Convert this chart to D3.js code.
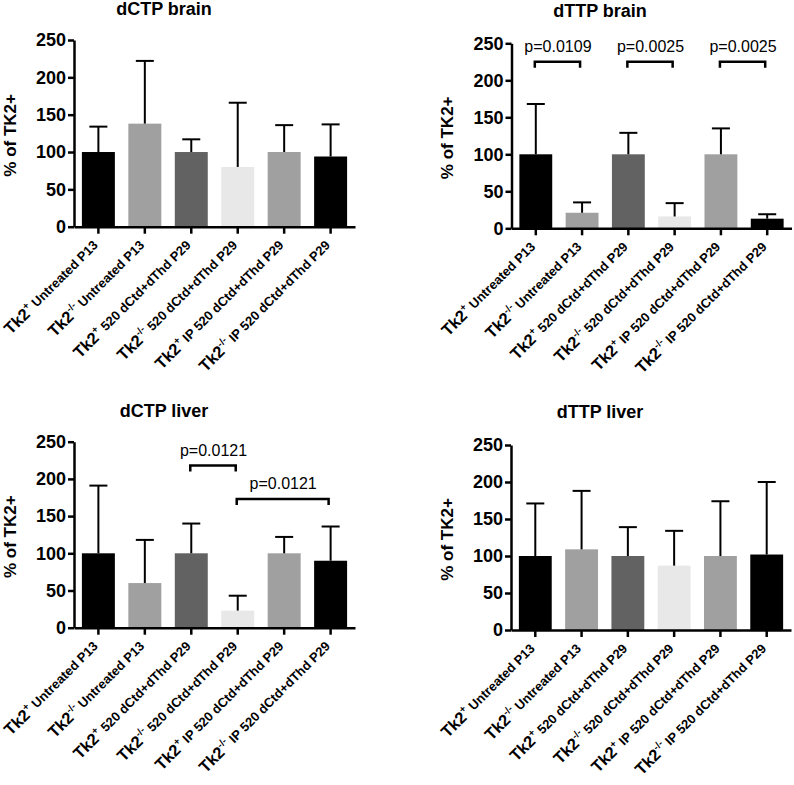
<!DOCTYPE html>
<html>
<head>
<meta charset="utf-8">
<script src="https://cdn.jsdelivr.net/npm/d3@7"></script>
<style>
  body { margin: 0; background: #fff; }
  text { font-family: 'Liberation Sans', Arial, sans-serif; }
</style>
</head>
<body>
<div id="chart"></div>
<script>
// group labels: genotype superscript + treatment
const genotypes = ['+', '-/-', '+', '-/-', '+', '-/-']
const treatments = ['Untreated P13', 'Untreated P13', '520 dCtd+dThd P29',
  '520 dCtd+dThd P29', 'IP 520 dCtd+dThd P29', 'IP 520 dCtd+dThd P29']
const barColors = ['#000000', '#a0a0a0', '#626262', '#e8e8e8', '#a0a0a0', '#000000']
const yTicks = [0, 50, 100, 150, 200, 250]

// % of TK2+ (mean) and SD, per panel
const dctpBrainMean = [100, 138, 100, 80, 100, 94]
const dctpBrainSd = [34, 84, 17, 86, 36, 43]
const dttpBrainMean = [100, 21, 100, 16, 100, 13]
const dttpBrainSd = [68, 14, 29, 18, 35, 6]
const dctpLiverMean = [100, 60, 100, 23, 100, 90]
const dctpLiverSd = [91, 58, 40, 20, 22, 46]
const dttpLiverMean = [100, 109, 100, 87, 100, 102]
const dttpLiverSd = [71, 79, 39, 47, 74, 98]

// significance brackets: from bar, to bar, height (data units), label
const dttpBrainSig = [
  { from: 0, to: 1, at: 225, label: 'p=0.0109' },
  { from: 2, to: 3, at: 225, label: 'p=0.0025' },
  { from: 4, to: 5, at: 225, label: 'p=0.0025' }
]
const dctpLiverSig = [
  { from: 2, to: 3, at: 218, label: 'p=0.0121' },
  { from: 3, to: 5, at: 173, label: 'p=0.0121' }
]

const W = 794, H = 785

const svg = d3.select('#chart').append('svg')
  .attr('width', W).attr('height', H)

function panel (cfg) {
  const g = svg.append('g')
  const x = d3.scaleBand().domain(d3.range(6))
    .range([cfg.x0, cfg.x1]).paddingInner(0.29).paddingOuter(0.17)
  const y = d3.scaleLinear().domain([0, 250]).range([cfg.y0, cfg.y1])

  // title
  g.append('text')
    .attr('x', cfg.tx).attr('y', cfg.ty)
    .attr('text-anchor', 'middle')
    .style('font-size', '18px').style('font-weight', 'bold')
    .text(cfg.title)

  // y label
  g.append('text')
    .attr('transform', `translate(${cfg.lx},${(cfg.y0 + cfg.y1) / 2 + 2}) rotate(-90)`)
    .attr('text-anchor', 'middle')
    .style('font-size', '17px').style('font-weight', 'bold')
    .text('% of TK2+')

  // bars
  g.selectAll('rect.bar').data(cfg.mean).enter().append('rect')
    .attr('class', 'bar')
    .attr('x', (d, i) => x(i))
    .attr('width', x.bandwidth())
    .attr('y', d => y(d))
    .attr('height', d => y(0) - y(d))
    .attr('fill', (d, i) => barColors[i])

  // error bars (upper only)
  const cap = 9
  const eb = g.selectAll('g.err').data(cfg.mean).enter().append('g')
    .attr('class', 'err')
    .attr('stroke', '#000').attr('stroke-width', 2)
  eb.append('line')
    .attr('x1', (d, i) => x(i) + x.bandwidth() / 2)
    .attr('x2', (d, i) => x(i) + x.bandwidth() / 2)
    .attr('y1', d => y(d))
    .attr('y2', (d, i) => y(d + cfg.sd[i]))
  eb.append('line')
    .attr('x1', (d, i) => x(i) + x.bandwidth() / 2 - cap)
    .attr('x2', (d, i) => x(i) + x.bandwidth() / 2 + cap)
    .attr('y1', (d, i) => y(d + cfg.sd[i]))
    .attr('y2', (d, i) => y(d + cfg.sd[i]))

  // axes
  const yAxis = g.append('g')
    .attr('transform', `translate(${cfg.x0},0)`)
    .call(d3.axisLeft(y).tickValues(yTicks).tickSize(6).tickSizeOuter(0).tickPadding(2))
  yAxis.select('.domain').attr('stroke-width', 2.5)
  yAxis.selectAll('.tick line').attr('stroke-width', 2.5)
  yAxis.selectAll('.tick text')
    .style('font-size', '18px').style('font-weight', 'bold')
    .style('font-family', "'Liberation Sans', Arial, sans-serif")
    .attr('fill', '#000')

  const xAxis = g.append('g')
    .attr('transform', `translate(0,${cfg.y0})`)
    .call(d3.axisBottom(x).tickSize(7).tickSizeOuter(0).tickFormat(''))
  xAxis.select('.domain').attr('stroke-width', 2.5)
  xAxis.selectAll('.tick line').attr('stroke-width', 2.5)

  // rotated category labels
  const lab = g.selectAll('text.cat').data(treatments).enter().append('text')
    .attr('class', 'cat')
    .attr('text-anchor', 'end')
    .attr('transform', (d, i) =>
      `translate(${x(i) + x.bandwidth() / 2 + 1},${cfg.y0 + 20}) rotate(-45)`)
    .style('font-weight', 'bold')
  lab.append('tspan').style('font-size', '16.5px').text('Tk2')
  lab.append('tspan').style('font-size', '10px').attr('dy', -7)
    .text((d, i) => genotypes[i])
  lab.append('tspan').style('font-size', '13px').attr('dy', 6)
    .text(d => ' ' + d)

  // significance brackets
  const sig = g.selectAll('g.sig').data(cfg.sig || []).enter().append('g')
    .attr('class', 'sig')
  sig.append('path')
    .attr('fill', 'none').attr('stroke', '#000').attr('stroke-width', 2.5)
    .attr('d', d => {
      const a = x(d.from) + x.bandwidth() / 2 - 1, b = x(d.to) + x.bandwidth() / 2 - 2
      const yy = y(d.at)
      return `M${a},${yy + 6}V${yy}H${b}V${yy + 6}`
    })
  sig.append('text')
    .attr('x', d => (x(d.from) + x(d.to) + x.bandwidth()) / 2 - 1)
    .attr('y', d => y(d.at) - 10)
    .attr('text-anchor', 'middle')
    .style('font-size', '16px')
    .text(d => d.label)
}

panel({ title: 'dCTP brain', mean: dctpBrainMean, sd: dctpBrainSd,
  x0: 74, x1: 355, y0: 226.7, y1: 40, tx: 164, ty: 15, lx: 16 })
panel({ title: 'dTTP brain', mean: dttpBrainMean, sd: dttpBrainSd, sig: dttpBrainSig,
  x0: 511.5, x1: 791.5, y0: 228.3, y1: 43.3, tx: 600, ty: 17, lx: 453 })
panel({ title: 'dCTP liver', mean: dctpLiverMean, sd: dctpLiverSd, sig: dctpLiverSig,
  x0: 74, x1: 355, y0: 627.7, y1: 441.7, tx: 164, ty: 417, lx: 16 })
panel({ title: 'dTTP liver', mean: dttpLiverMean, sd: dttpLiverSd,
  x0: 511, x1: 791, y0: 630, y1: 445, tx: 600, ty: 418, lx: 453 })
</script>
</body>
</html>
